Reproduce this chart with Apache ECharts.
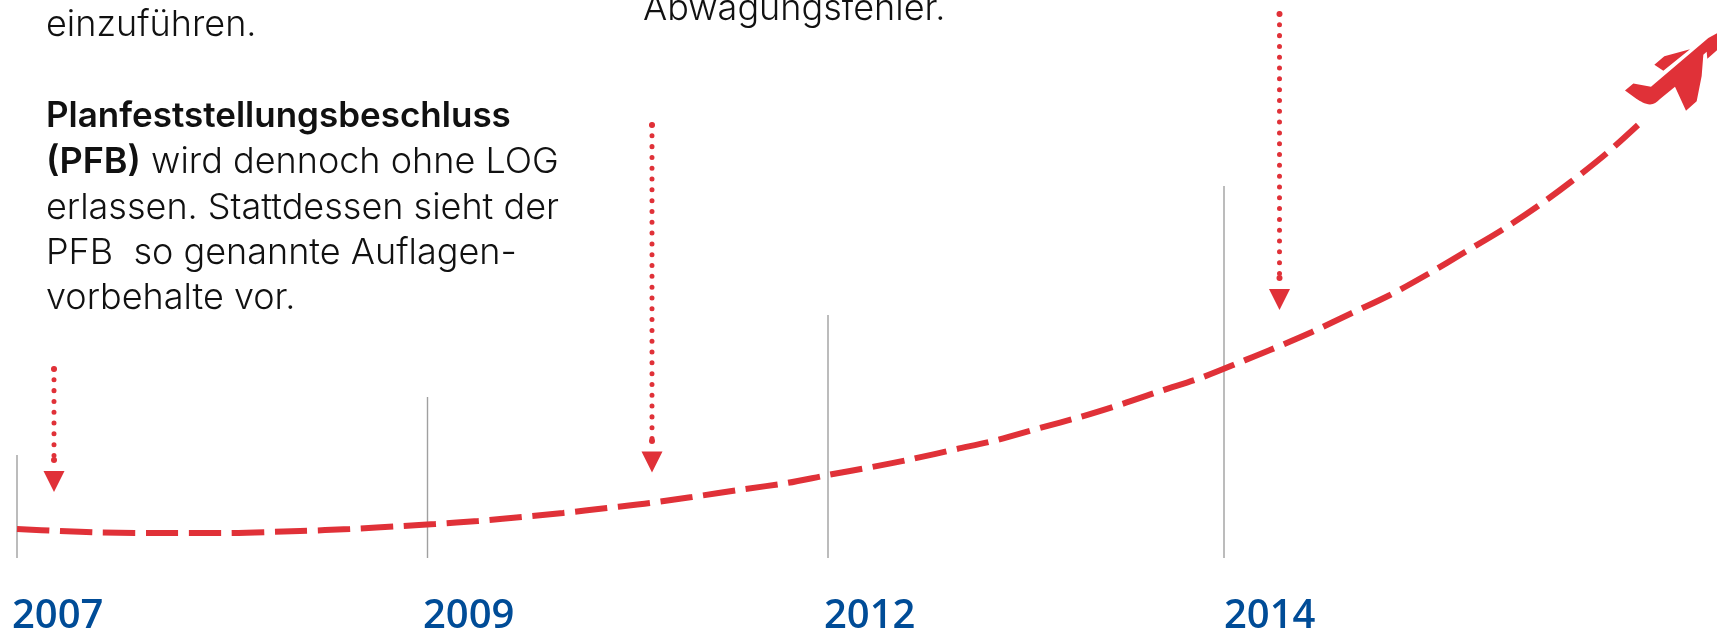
<!DOCTYPE html>
<html>
<head>
<meta charset="utf-8">
<title>Zeitleiste</title>
<style>
  html, body { margin: 0; padding: 0; background: #fff; }
  #chart { width: 1717px; height: 630px; }
</style>
<script src="https://cdn.jsdelivr.net/npm/echarts@6/dist/echarts.min.js"></script>
</head>
<body>
<div id="chart"></div>
<script>
  // timeline position on x, height above the axis on y
  const years = ['2007', '2009', '2012', '2014']
  const yearTicks = [17, 427.5, 828, 1224]
  const yearTickHeights = [103, 161, 243, 372]
  const yearLabelStarts = [12, 423, 824, 1224]

  const curveX = [17, 60, 100, 170, 220, 300, 350, 403, 435, 478, 522, 563, 607, 650, 692, 745, 787, 828, 872, 912, 957, 997, 1040, 1080, 1122, 1162, 1203, 1243, 1270, 1312, 1352, 1390, 1428, 1465, 1502, 1538, 1572, 1607, 1638]
  const curveY = [29, 27, 25.5, 25, 25, 27, 29, 32, 34, 37, 41, 45, 50, 55, 61, 69, 75, 83, 91, 99, 109, 118, 130, 141, 154, 167.5, 181, 197, 208, 226, 245, 263, 284, 306, 328, 352, 377, 405, 433]

  const arrowX = [54, 652, 1279.5]
  const arrowTop = [189, 433, 544]
  const arrowEnd = [98, 117, 280]
  const arrowHead = [76.5, 96, 258.5]

  const planeAt = [1671, 486]

  const RED = '#e03138'
  const BLUE = '#004c97'
  const TEXT_FONT = 'Inter'
  const PLANE_PATH = 'path://M375,277 L400,254 L453,265 L625,105 L651,90 L651,145 L622,173 L620,150 L610,160 L605,230 L590,312 L558,343 L525,265 L480,305 C470,316 462,322 450,323 C435,322 420,312 410,305 Z M463,193 L493,165 L570,142 L490,212 Z'

  // y is the top of the line box, baseline sits about 33px lower
  function textLine(x, y, text, bold) {
    return {
      type: 'text',
      x: x,
      y: y,
      style: {
        text: text,
        fill: '#111',
        font: bold ? '600 35px ' + TEXT_FONT : '300 36px ' + TEXT_FONT,
        rich: {
          b: { font: '600 36px ' + TEXT_FONT, fill: '#111' }
        }
      }
    }
  }

  const chart = echarts.init(document.getElementById('chart'))

  const tickSeries = yearTicks.map((x, i) => ({
    type: 'line',
    silent: true,
    showSymbol: false,
    lineStyle: { color: '#a0a0a0', width: 1.4 },
    data: [[x, 0], [x, yearTickHeights[i]]]
  }))

  const arrowSeries = arrowX.map((x, i) => ({
    type: 'line',
    silent: true,
    symbol: 'circle',
    symbolSize: 6,
    showAllSymbol: true,
    itemStyle: { color: RED },
    lineStyle: { color: RED, width: 5, type: [0.01, 10.8], cap: 'round' },
    data: [[x, arrowTop[i]], [x, arrowEnd[i]]]
  }))

  chart.setOption({
    animation: false,
    backgroundColor: '#fff',
    grid: { left: 0, right: 0, top: 0, bottom: 72, outerBoundsMode: 'none' },
    xAxis: {
      type: 'value',
      min: 0,
      max: 1717,
      splitLine: { show: false },
      axisLine: { show: false },
      axisTick: { show: false },
      axisLabel: {
        customValues: yearLabelStarts,
        formatter: v => years[yearLabelStarts.indexOf(v)],
        align: 'left',
        margin: 39,
        color: BLUE,
        fontFamily: 'Open Sans',
        fontWeight: 600,
        fontSize: 40
      }
    },
    yAxis: {
      type: 'value',
      min: 0,
      max: 558,
      show: false
    },
    series: [
      ...tickSeries,
      ...arrowSeries,
      {
        type: 'line',
        silent: true,
        smooth: 0.3,
        showSymbol: false,
        lineStyle: { color: RED, width: 6, type: [32.3, 10.7], cap: 'butt' },
        data: curveX.map((x, i) => [x, curveY[i]])
      },
      {
        type: 'scatter',
        silent: true,
        symbol: 'triangle',
        symbolRotate: 180,
        symbolSize: 21,
        itemStyle: { color: RED, opacity: 1 },
        data: arrowX.map((x, i) => [x, arrowHead[i]])
      },
      {
        type: 'scatter',
        silent: true,
        clip: false,
        symbol: PLANE_PATH,
        symbolKeepAspect: true,
        symbolSize: [92, 84.3],
        itemStyle: { color: RED, opacity: 1 },
        data: [planeAt]
      }
    ],
    graphic: [
      textLine(46, 7, 'einzuführen.'),
      textLine(46, 99, 'Planfeststellungsbeschluss', true),
      textLine(46, 144, '{b|(PFB)} wird dennoch ohne LOG'),
      textLine(46, 190, 'erlassen. Stattdessen sieht der'),
      textLine(46, 235, 'PFB  so genannte Auflagen-'),
      textLine(46, 280, 'vorbehalte vor.'),
      textLine(643, -9, 'Abwägungsfehler.')
    ]
  })
</script>
</body>
</html>
